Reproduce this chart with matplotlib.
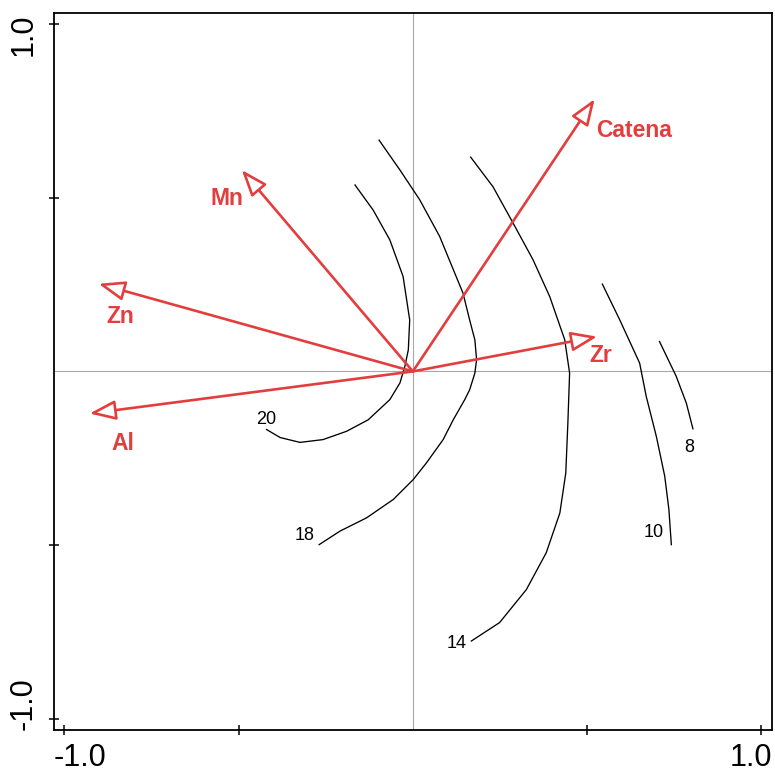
import matplotlib
matplotlib.use("Agg")
import matplotlib.pyplot as plt

plt.rcParams['font.family'] = ['Liberation Sans', 'DejaVu Sans']

# Environmental variable vectors (biplot scores)
var_names = ["Catena", "Mn", "Zn", "Al", "Zr"]
var_x = [0.522, -0.491, -0.902, -0.928, 0.529]
var_y = [0.783, 0.579, 0.252, -0.121, 0.100]
# label anchor positions
lab_x = [0.527, -0.533, -0.840, -0.832, 0.539]
lab_y = [0.694, 0.497, 0.157, -0.208, 0.045]
lab_ha = ["left", "center", "center", "center", "center"]

# Isolines of the fitted response surface
iso_levels = ["20", "18", "14", "10", "8"]
iso20_x = [-0.166, -0.114, -0.066, -0.028, -0.009, -0.013, -0.023, -0.037, -0.066,
           -0.128, -0.190, -0.258, -0.324, -0.381, -0.420]
iso20_y = [0.536, 0.464, 0.378, 0.273, 0.148, 0.062, 0.014, -0.033, -0.081,
           -0.139, -0.172, -0.196, -0.204, -0.190, -0.167]
iso18_x = [-0.097, -0.037, 0.020, 0.077, 0.144, 0.163, 0.178, 0.183, 0.178, 0.163,
           0.149, 0.116, 0.087, 0.039, 0.001, -0.056, -0.133, -0.209, -0.269]
iso18_y = [0.665, 0.579, 0.493, 0.388, 0.225, 0.148, 0.091, 0.034, -0.005, -0.053,
           -0.081, -0.139, -0.196, -0.263, -0.311, -0.368, -0.421, -0.459, -0.498]
iso14_x = [0.166, 0.230, 0.288, 0.345, 0.393, 0.436, 0.450, 0.445, 0.439, 0.422,
           0.383, 0.326, 0.249, 0.168]
iso14_y = [0.616, 0.531, 0.426, 0.321, 0.215, 0.091, -0.005, -0.148, -0.292, -0.407,
           -0.521, -0.627, -0.722, -0.775]
iso10_x = [0.544, 0.594, 0.651, 0.670, 0.699, 0.723, 0.735, 0.742]
iso10_y = [0.251, 0.148, 0.024, -0.072, -0.187, -0.301, -0.397, -0.498]
iso8_x = [0.708, 0.756, 0.785, 0.804]
iso8_y = [0.086, -0.014, -0.091, -0.165]
iso_lab_x = [-0.422, -0.310, 0.127, 0.691, 0.792]
iso_lab_y = [-0.137, -0.472, -0.782, -0.464, -0.220]

RED = "#e33e3e"

fig = plt.figure(figsize=(7.75, 7.73), dpi=100)
ax = fig.add_axes([0.0697, 0.056, 0.926, 0.927])
ax.set_xlim(-1.03, 1.03)
ax.set_ylim(-1.03, 1.03)

# origin cross-hairs
ax.axhline(0, color="#a8a8a8", lw=0.8, zorder=1)
ax.axvline(0, color="#a8a8a8", lw=0.8, zorder=1)

# isolines
iso_xs = [iso20_x, iso18_x, iso14_x, iso10_x, iso8_x]
iso_ys = [iso20_y, iso18_y, iso14_y, iso10_y, iso8_y]
for xs, ys in zip(iso_xs, iso_ys):
    ax.plot(xs, ys, color="black", lw=0.95, zorder=2, solid_joinstyle="round")
for lvl, lx, ly in zip(iso_levels, iso_lab_x, iso_lab_y):
    ax.text(lx, ly, lvl, fontsize=13, ha="center", va="center", color="black", zorder=4)

# variable arrows
for name, vx, vy, tx, ty, ha in zip(var_names, var_x, var_y, lab_x, lab_y, lab_ha):
    ax.annotate("", xy=(vx, vy), xytext=(0, 0),
                arrowprops=dict(arrowstyle="-|>,head_length=16,head_width=6",
                                mutation_scale=1, fc="white", ec=RED, lw=1.9,
                                shrinkA=0, shrinkB=0),
                zorder=3)
    ax.text(tx, ty, name, color=RED, fontsize=16.5, fontweight="bold",
            ha=ha, va="center", zorder=4)

# axes frame and ticks
for s in ax.spines.values():
    s.set_linewidth(1.3)
ax.set_xticks([-1.0, -0.5, 0.5, 1.0])
ax.set_yticks([-1.0, -0.5, 0.5, 1.0])
ax.set_xticklabels([])
ax.set_yticklabels([])
ax.tick_params(direction="inout", length=7, width=1.1)

# end labels, flush with the frame
ax.text(0.0, -0.019, "-1.0", transform=ax.transAxes, ha="left", va="top", fontsize=22)
ax.text(1.0, -0.019, "1.0", transform=ax.transAxes, ha="right", va="top", fontsize=22)
ax.text(-0.021, 1.0, "1.0", transform=ax.transAxes, ha="right", va="top",
        rotation=90, fontsize=22)
ax.text(-0.021, 0.0, "-1.0", transform=ax.transAxes, ha="right", va="bottom",
        rotation=90, fontsize=22)

fig.savefig("out.png", dpi=100)
